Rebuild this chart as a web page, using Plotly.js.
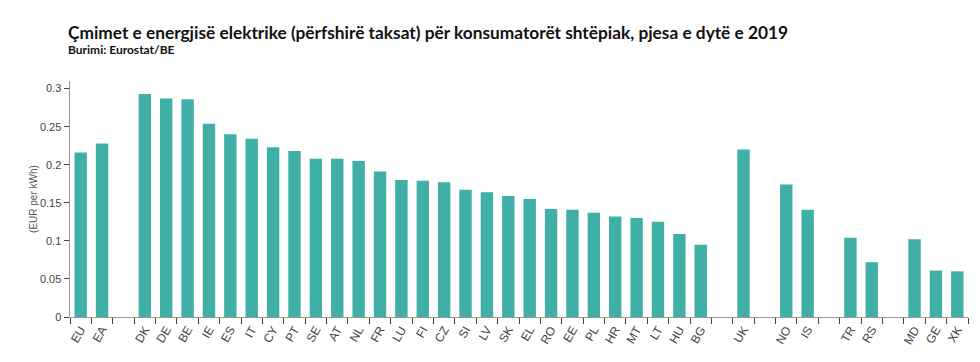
<!DOCTYPE html>
<html>
<head>
<meta charset="utf-8">
<script src="https://cdn.plot.ly/plotly-3.0.1.min.js"></script>
<style>
  html, body { margin: 0; padding: 0; background: #fff; }
  #chart { width: 980px; height: 362px; }
</style>
</head>
<body>
<div id="chart"></div>
<script>
// Categories (blank entries are spacing gaps between country groups)
const categories = ["EU", "EA", " ",
  "DK", "DE", "BE", "IE", "ES", "IT", "CY", "PT", "SE", "AT", "NL", "FR", "LU", "FI", "CZ",
  "SI", "LV", "SK", "EL", "RO", "EE", "PL", "HR", "MT", "LT", "HU", "BG", "  ",
  "UK", "   ",
  "NO", "IS", "    ",
  "TR", "RS", "     ",
  "MD", "GE", "XK"];

// Price in EUR per kWh, second half of 2019
const prices = [0.216, 0.228, null,
  0.293, 0.287, 0.286, 0.254, 0.240, 0.234, 0.223, 0.218, 0.208, 0.208, 0.205, 0.191, 0.180, 0.179, 0.177,
  0.167, 0.164, 0.159, 0.155, 0.142, 0.141, 0.137, 0.132, 0.130, 0.125, 0.109, 0.095, null,
  0.220, null,
  0.174, 0.141, null,
  0.104, 0.072, null,
  0.102, 0.061, 0.060];

const titleText = "Çmimet e energjisë elektrike (përfshirë taksat) për konsumatorët shtëpiak, pjesa e dytë e 2019";
const subtitleText = "Burimi: Eurostat/BE";
const yTitle = "(EUR per kWh)";

const trace = {
  type: "bar",
  x: categories,
  y: prices,
  marker: { color: "#40AFA6" },
  hoverinfo: "x+y"
};

const layout = {
  width: 980,
  height: 362,
  margin: { l: 70, r: 12, t: 81, b: 45 },
  paper_bgcolor: "#ffffff",
  plot_bgcolor: "#ffffff",
  showlegend: false,
  bargap: 0.42,
  font: { family: "Liberation Sans, Arial, sans-serif", color: "#444" },
  xaxis: {
    type: "category",
    categoryorder: "array",
    categoryarray: categories,
    tickson: "boundaries",
    ticks: "outside",
    ticklen: 6,
    tickcolor: "#444",
    tickwidth: 1,
    showline: true,
    linecolor: "#999",
    linewidth: 1,
    showgrid: false,
    zeroline: false,
    tickangle: -60,
    tickfont: { size: 12, color: "#444" },
    fixedrange: true
  },
  yaxis: {
    range: [0, 0.31],
    tickvals: [0, 0.05, 0.1, 0.15, 0.2, 0.25, 0.3],
    ticktext: ["0", "0.05", "0.1", "0.15", "0.2", "0.25", "0.3"],
    ticks: "outside",
    ticklen: 5,
    tickcolor: "#444",
    showline: true,
    linecolor: "#999",
    linewidth: 1.5,
    showgrid: false,
    zeroline: false,
    tickfont: { size: 11, color: "#444" },
    title: { text: yTitle, font: { size: 10, color: "#555" }, standoff: 0 },
    fixedrange: true
  },
  annotations: [
    {
      text: "<b>" + titleText + "</b>",
      xref: "paper", yref: "paper",
      x: 0, y: 1, xanchor: "left", yanchor: "middle",
      xshift: -4, yshift: 49,
      showarrow: false,
      font: { family: "Lato, sans-serif", size: 17.3, color: "#111" }
    },
    {
      text: "<b>" + subtitleText + "</b>",
      xref: "paper", yref: "paper",
      x: 0, y: 1, xanchor: "left", yanchor: "middle",
      xshift: -4, yshift: 32,
      showarrow: false,
      font: { family: "Lato, sans-serif", size: 12, color: "#111" }
    }
  ]
};

Plotly.newPlot("chart", [trace], layout, { displayModeBar: false, staticPlot: true });
</script>
</body>
</html>
